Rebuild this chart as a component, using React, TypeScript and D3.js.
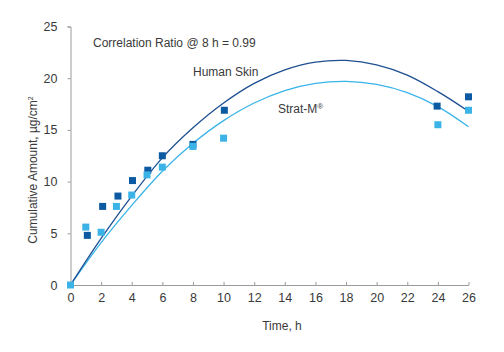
import React, { useRef, useEffect } from 'react';
import * as d3 from 'd3';

// measured points
const skinTimes = [1.1, 2.1, 3.1, 4.05, 5.05, 6.0, 8.0, 10.05, 23.95, 26];
const skinValues = [4.8, 7.6, 8.6, 10.1, 11.1, 12.5, 13.6, 16.9, 17.3, 18.2];
const stratTimes = [0, 1.0, 2.0, 3.0, 4.0, 5.0, 6.0, 8.0, 10.0, 24.0, 26];
const stratValues = [0, 5.6, 5.1, 7.6, 8.7, 10.65, 11.4, 13.4, 14.2, 15.5, 16.9];

// trend lines
const fitTimes = [0, 2, 4, 6, 8, 10, 12, 14, 16, 18, 20, 22, 24, 26];
const skinFit = [0, 4.5, 8.6, 12.3, 15.2, 17.6, 19.5, 20.8, 21.55, 21.72, 21.3, 20.3, 18.7, 16.8];
const stratFit = [0, 4.1, 7.7, 11.0, 13.7, 15.9, 17.6, 18.8, 19.5, 19.7, 19.4, 18.6, 17.25, 15.3];

const xTicks = [0, 2, 4, 6, 8, 10, 12, 14, 16, 18, 20, 22, 24, 26];
const yTicks = [0, 5, 10, 15, 20, 25];

const DARK = '#0b5aa2';
const LIGHT = '#3bb3e6';
const DARK_LINE = '#1d4f91';
const LIGHT_LINE = '#3ab4e8';
const TEXT = '#3a3a3a';

const ScatterChart = ({ width, height }) => {
  const svgRef = useRef();

  useEffect(() => {
    const svg = d3.select(svgRef.current);
    const margin = { top: 26.5, right: 35.5, bottom: 67, left: 70.5 };
    const innerWidth = width - margin.left - margin.right;
    const innerHeight = height - margin.top - margin.bottom;
    const font = "'Liberation Sans', Arial, sans-serif";

    svg.selectAll('*').remove();

    const x = d3.scaleLinear().domain([0, 26]).range([0, innerWidth]);
    const y = d3.scaleLinear().domain([0, 25]).range([innerHeight, 0]);

    const g = svg.append('g')
      .attr('transform', `translate(${margin.left},${margin.top})`);

    // y axis, ticks outward
    const yAxis = g.append('g')
      .call(d3.axisLeft(y).tickValues(yTicks).tickSize(3).tickPadding(10));
    yAxis.selectAll('path, line').attr('stroke', '#9a9a9a');
    yAxis.selectAll('text')
      .attr('fill', TEXT)
      .style('font-family', font)
      .style('font-size', '12.5px');

    // x axis, ticks inward
    const xAxis = g.append('g')
      .attr('transform', `translate(0,${innerHeight})`)
      .call(d3.axisBottom(x).tickValues(xTicks).tickSizeInner(-3).tickSizeOuter(0).tickPadding(8));
    xAxis.selectAll('path, line').attr('stroke', '#9a9a9a');
    xAxis.selectAll('text')
      .attr('fill', TEXT)
      .style('font-family', font)
      .style('font-size', '12.5px');

    // trend lines
    const line = d3.line()
      .x((d) => x(d[0]))
      .y((d) => y(d[1]))
      .curve(d3.curveCatmullRom);

    g.append('path')
      .datum(fitTimes.map((t, i) => [t, stratFit[i]]))
      .attr('fill', 'none')
      .attr('stroke', LIGHT_LINE)
      .attr('stroke-width', 1.3)
      .attr('d', line);

    g.append('path')
      .datum(fitTimes.map((t, i) => [t, skinFit[i]]))
      .attr('fill', 'none')
      .attr('stroke', DARK_LINE)
      .attr('stroke-width', 1.3)
      .attr('d', line);

    // markers
    const s = 7;
    g.selectAll('rect.skin')
      .data(skinTimes.map((t, i) => [t, skinValues[i]]))
      .enter().append('rect')
      .attr('class', 'skin')
      .attr('x', (d) => x(d[0]) - s / 2)
      .attr('y', (d) => y(d[1]) - s / 2)
      .attr('width', s)
      .attr('height', s)
      .attr('fill', DARK);

    g.selectAll('rect.strat')
      .data(stratTimes.map((t, i) => [t, stratValues[i]]))
      .enter().append('rect')
      .attr('class', 'strat')
      .attr('x', (d) => x(d[0]) - s / 2)
      .attr('y', (d) => y(d[1]) - s / 2)
      .attr('width', s)
      .attr('height', s)
      .attr('fill', LIGHT);

    // annotations
    svg.append('text')
      .attr('x', 93)
      .attr('y', 47)
      .attr('fill', TEXT)
      .style('font-family', font)
      .style('font-size', '12px')
      .text('Correlation Ratio @ 8 h = 0.99');

    svg.append('text')
      .attr('x', 193)
      .attr('y', 76)
      .attr('fill', TEXT)
      .style('font-family', font)
      .style('font-size', '12px')
      .text('Human Skin');

    const strat = svg.append('text')
      .attr('x', 278)
      .attr('y', 113)
      .attr('fill', TEXT)
      .style('font-family', font)
      .style('font-size', '12px');
    strat.append('tspan').text('Strat-M');
    strat.append('tspan')
      .attr('dy', -4)
      .style('font-size', '8px')
      .text('®');

    // axis titles
    svg.append('text')
      .attr('x', 282)
      .attr('y', 330)
      .attr('text-anchor', 'middle')
      .attr('fill', TEXT)
      .style('font-family', font)
      .style('font-size', '12px')
      .text('Time, h');

    const yt = svg.append('text')
      .attr('transform', 'translate(37,170) rotate(-90)')
      .attr('text-anchor', 'middle')
      .attr('fill', TEXT)
      .style('font-family', font)
      .style('font-size', '12px');
    yt.append('tspan').text('Cumulative Amount, µg/cm');
    yt.append('tspan')
      .attr('dy', -4)
      .style('font-size', '7px')
      .text('2');
  }, [width, height]);

  return (
    <svg ref={svgRef} width={width} height={height} style={{ display: 'block' }} />
  );
};

export default function App() {
  return (
    <div style={{ margin: -8, background: '#fff' }}>
      <ScatterChart width={504} height={352} />
    </div>
  );
}
